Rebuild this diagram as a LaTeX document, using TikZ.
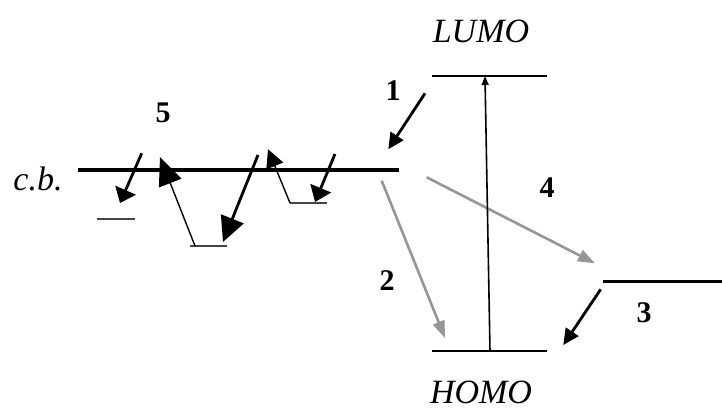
\documentclass[tikz,border=0pt]{standalone}
\usepackage{fontspec}
\setmainfont{Liberation Serif}
\usetikzlibrary{arrows.meta}
\definecolor{arrgray}{RGB}{150,150,150}
\definecolor{trapgray}{RGB}{70,70,70}
\begin{document}
\begin{tikzpicture}[x=1pt,y=-1pt,
  level/.style={line width=2.8pt,black},
  traplvl/.style={line width=1.6pt,trapgray},
  thinarr/.style={line width=1.4pt,black},
  grayarr/.style={line width=2.6pt,arrgray,-{Triangle[length=17pt,width=12pt]}},
  numlbl/.style={font=\fontsize{30}{30}\selectfont\bfseries,anchor=base,inner sep=0pt},
  itlbl/.style={font=\fontsize{34}{34}\selectfont\itshape,anchor=base,inner sep=0pt}]
\useasboundingbox (0,0) rectangle (722,412);
% levels
\coordinate (cbL) at (78,170);   \coordinate (cbR) at (399,170);
\coordinate (luL) at (431.7,76); \coordinate (luR) at (546.7,76);
\coordinate (hoL) at (431.7,351);\coordinate (hoR) at (546.7,351);
\coordinate (trL) at (603.3,281.7); \coordinate (trR) at (722,281.7);
\draw[line width=3.2pt] (cbL) -- (cbR);
\draw[level] (luL) -- (luR);
\draw[level] (hoL) -- (hoR);
\draw[level] (trL) -- (trR);
% small traps
\coordinate (t1L) at (97,219);  \coordinate (t1R) at (135,219);
\coordinate (t2L) at (190,246); \coordinate (t2R) at (227,246);
\coordinate (t3L) at (290,203); \coordinate (t3R) at (327,203);
\draw[traplvl] (t1L) -- (t1R);
\draw[traplvl] (t2L) -- (t2R);
\draw[traplvl] (t3L) -- (t3R);
% left arrows
\coordinate (aS) at (141.7,153.3); \coordinate (aE) at (120,203);
\draw[line width=2.8pt,-{Triangle[length=14pt,width=22pt]}] (aS) -- (aE);
\coordinate (bS) at (195,246); \coordinate (bE) at (160,157);
\draw[thinarr,-{Triangle[length=28pt,width=24pt]}] (bS) -- (bE);
\coordinate (cS) at (258,155); \coordinate (cE) at (223,242);
\draw[line width=2.8pt,-{Triangle[length=25pt,width=24pt]}] (cS) -- (cE);
\coordinate (dE) at (268,149.3);
\draw[thinarr,-{Triangle[length=18pt,width=18pt]}] (t3L) -- (dE);
\coordinate (eS) at (335,154); \coordinate (eE) at (315,202);
\draw[line width=2.8pt,-{Triangle[length=15pt,width=22pt]}] (eS) -- (eE);
% right arrows
\coordinate (oneS) at (425,93.3); \coordinate (oneE) at (388.3,149.3);
\draw[line width=2.8pt,-{Triangle[length=16pt,width=15pt]}] (oneS) -- (oneE);
\coordinate (twoS) at (381.7,180.7); \coordinate (twoE) at (445,338);
\draw[grayarr] (twoS) -- (twoE);
\coordinate (fourS) at (426.7,177.3); \coordinate (fourE) at (595,263.3);
\draw[grayarr] (fourS) -- (fourE);
\coordinate (vS) at (490,351); \coordinate (vE) at (485,76);
\draw[line width=1.6pt,-{Triangle[length=9pt,width=7pt]}] (vS) -- (vE);
\coordinate (thS) at (600.7,289.3); \coordinate (thE) at (563.3,345);
\draw[line width=2.8pt,-{Triangle[length=16pt,width=15pt]}] (thS) -- (thE);
% labels
\node[itlbl] (lumo) at (481,42) {LUMO};
\node[itlbl] (homo) at (481,403) {HOMO};
\node[itlbl] (cb) at (38,190) {c.b.};
\node[numlbl] (n1) at (393,100) {1};
\node[numlbl] (n2) at (387,290) {2};
\node[numlbl] (n3) at (644,322) {3};
\node[numlbl] (n4) at (547,197) {4};
\node[numlbl] (n5) at (163,122) {5};
\end{tikzpicture}
\end{document}
